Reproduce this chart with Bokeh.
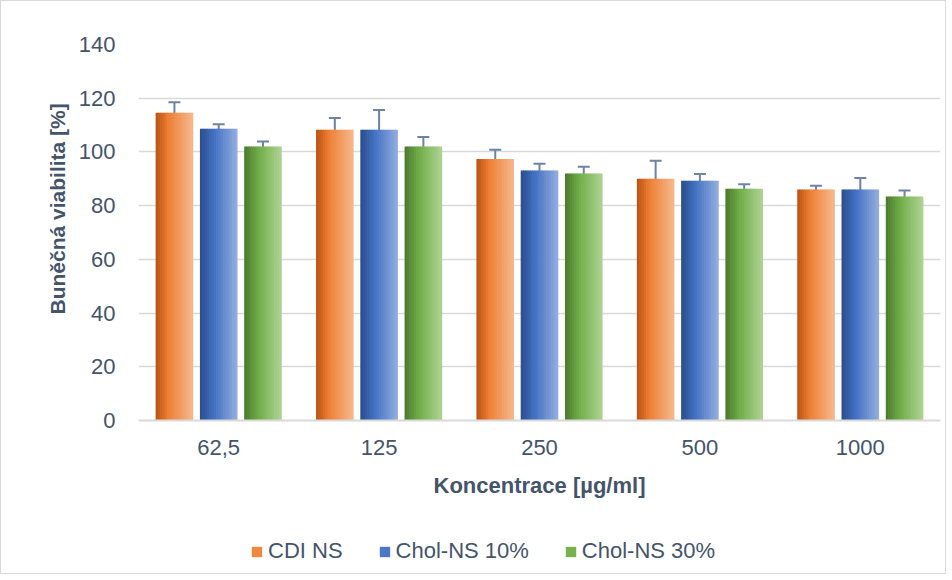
from bokeh.plotting import figure
from bokeh.layouts import column
from bokeh.models import ColumnDataSource, Range1d, FixedTicker, Whisker, TeeHead, Legend, LegendItem, Title
from bokeh.transform import dodge
from bokeh.embed import file_html
from bokeh.resources import INLINE

# ---- data ----
categories = ["62,5", "125", "250", "500", "1000"]
series_names = ["CDI NS", "Chol-NS 10%", "Chol-NS 30%"]
cdi_ns = [114.6, 108.3, 97.4, 90.0, 86.0]
chol_10 = [108.6, 108.3, 93.1, 89.3, 86.0]
chol_30 = [102.0, 102.0, 92.0, 86.3, 83.4]
cdi_err = [3.9, 4.3, 3.4, 6.7, 1.4]
chol_10_err = [1.7, 7.3, 2.5, 2.5, 4.3]
chol_30_err = [1.9, 3.6, 2.5, 1.7, 2.2]
y_ticks = [0, 20, 40, 60, 80, 100, 120, 140]

values = [cdi_ns, chol_10, chol_30]
errors = [cdi_err, chol_10_err, chol_30_err]

data = {"cat": categories}
for i, (v, e) in enumerate(zip(values, errors)):
    data[f"v{i}"] = v
    data[f"hi{i}"] = [a + b for a, b in zip(v, e)]
    data[f"lo{i}"] = [a - b for a, b in zip(v, e)]
src = ColumnDataSource(data)

# ---- style ----
FONT = "Liberation Sans"
TXT = "#44546A"
GRID = "#D9D9D9"
ERR = "#6D83A3"
gradients = [
    [(0.0, "#B9510F"), (0.35, "#EE8035"), (1.0, "#F5B88C")],
    [(0.0, "#2A4D8C"), (0.40, "#4472C4"), (1.0, "#93ADDE")],
    [(0.0, "#4A7A2C"), (0.40, "#72AE4A"), (1.0, "#ADD392")],
]
offsets = [-0.276, 0.0, 0.276]
bar_w = 0.23
N = 16


def hex2rgb(h):
    h = h.lstrip("#")
    return tuple(int(h[i:i + 2], 16) for i in (0, 2, 4))


def grad_color(stops, t):
    for (t0, c0), (t1, c1) in zip(stops[:-1], stops[1:]):
        if t <= t1:
            f = (t - t0) / (t1 - t0)
            a, b = hex2rgb(c0), hex2rgb(c1)
            return "#%02x%02x%02x" % tuple(int(round(x + (y - x) * f)) for x, y in zip(a, b))
    return stops[-1][1]


p = figure(
    x_range=categories, y_range=Range1d(0, 140),
    width=944, height=510, output_backend="svg", toolbar_location=None,
    min_border_left=137, min_border_right=5, min_border_top=43, min_border_bottom=91,
)
p.outline_line_color = None

for s in range(3):
    for k in range(N):
        t = (k + 0.5) / N
        xoff = offsets[s] - bar_w / 2 + (k + 0.5) * bar_w / N
        p.vbar(x=dodge("cat", xoff, range=p.x_range), top=f"v{s}", bottom=0,
               width=bar_w / N * 1.3, source=src,
               fill_color=grad_color(gradients[s], t), line_color=None)
    w = Whisker(source=src, base=dodge("cat", offsets[s], range=p.x_range),
                upper=f"hi{s}", lower=f"lo{s}", line_color=ERR, line_width=2,
                upper_head=TeeHead(size=12, line_color=ERR, line_width=2),
                lower_head=TeeHead(size=12, line_color=ERR, line_width=2))
    p.add_layout(w)

# axes
p.yaxis.ticker = FixedTicker(ticks=y_ticks)
for ax in (p.xaxis, p.yaxis):
    ax.major_tick_line_color = None
    ax.minor_tick_line_color = None
    ax.major_label_text_font = FONT
    ax.major_label_text_font_size = "22px"
    ax.major_label_text_color = TXT
    ax.axis_label_text_font = FONT
    ax.axis_label_text_font_size = "22px"
    ax.axis_label_text_font_style = "bold"
    ax.axis_label_text_color = TXT
p.yaxis.axis_line_color = None
p.yaxis.major_label_standoff = 17
p.xaxis.axis_line_color = GRID
p.xaxis.axis_line_width = 2
p.xaxis.major_label_standoff = 13
p.xaxis.axis_label = "Koncentrace [µg/ml]"
p.xaxis.axis_label_standoff = 15
p.xgrid.grid_line_color = None
p.ygrid.grid_line_color = GRID
p.ygrid.grid_line_width = 1.5

ytitle = Title(text="Buněčná viabilita [%]", align="left", offset=106,
               text_font=FONT, text_font_size="21px", text_font_style="bold",
               text_color=TXT, standoff=14)
p.add_layout(ytitle, "left")

# ---- legend strip (separate figure below the chart) ----
lf = figure(width=944, height=62, output_backend="svg", toolbar_location=None,
            x_range=Range1d(0, 1), y_range=Range1d(0, 1),
            x_axis_type=None, y_axis_type=None,
            min_border_left=0, min_border_right=0, min_border_top=0, min_border_bottom=0)
lf.outline_line_color = None
lf.xgrid.grid_line_color = None
lf.ygrid.grid_line_color = None
items = []
for s, name in enumerate(series_names):
    # zero-height proxy glyph, only used to draw the legend swatch
    r = lf.vbar(x=[0], top=[0], bottom=[0], width=0.0, fill_color=grad_color(gradients[s], 0.45),
                line_color=None)
    items.append(LegendItem(label=name, renderers=[r]))
legend = Legend(
    items=items, orientation="horizontal", location=(112, 9),
    label_text_font=FONT, label_text_font_size="22px", label_text_color=TXT,
    glyph_width=13, glyph_height=13, label_standoff=5, spacing=35,
    border_line_color=None, background_fill_alpha=0, padding=0, margin=0,
)
lf.add_layout(legend)

layout = column(p, lf, spacing=0, styles={"border": "1px solid #D9D9D9", "box-sizing": "border-box"})

open("out.html", "w").write(file_html(layout, INLINE))
